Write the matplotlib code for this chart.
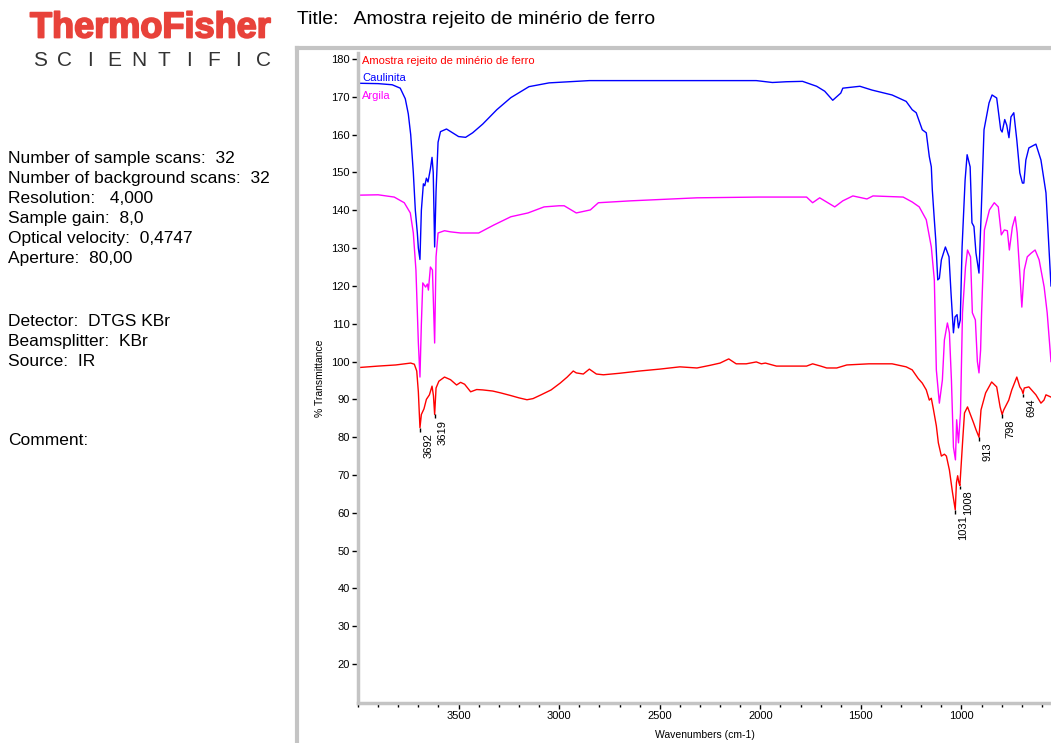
import matplotlib
matplotlib.use("Agg")
import matplotlib.pyplot as plt
import matplotlib.patheffects as pe
from matplotlib.lines import Line2D
from matplotlib.ticker import MultipleLocator

plt.rcParams["font.family"] = ["Liberation Sans", "DejaVu Sans"]

amostra_wn = [4000, 3900, 3812, 3738, 3720, 3708, 3700, 3692, 3685, 3672, 3660, 3645,
              3632, 3625, 3619, 3612, 3598, 3570, 3540, 3510, 3490, 3470, 3440, 3410,
              3380, 3330, 3290, 3240, 3200, 3160, 3130, 3090, 3040, 2995, 2960, 2930,
              2915, 2880, 2850, 2815, 2780, 2700, 2600, 2500, 2400, 2315, 2250, 2200,
              2157, 2120, 2070, 2020, 1995, 1975, 1920, 1800, 1770, 1740, 1700, 1670,
              1620, 1570, 1460, 1345, 1275, 1245, 1215, 1195, 1175, 1160, 1150, 1140,
              1125, 1115, 1100, 1085, 1075, 1060, 1045, 1031, 1025, 1019, 1013, 1008,
              1000, 993, 985, 970, 955, 940, 928, 913, 903, 880, 850, 825, 808, 798,
              790, 765, 750, 725, 710, 700, 694, 688, 665, 630, 605, 590, 580, 555]
amostra_t = [98.4, 98.8, 99.1, 99.6, 99.3, 97.5, 92.0, 82.5, 86.0, 87.5, 90.0, 91.2,
             93.5, 91.0, 86.0, 93.0, 94.8, 95.9, 95.2, 93.8, 94.5, 94.0, 92.0, 92.6,
             92.5, 92.2, 91.7, 91.0, 90.4, 89.9, 90.2, 91.2, 92.5, 94.3, 95.9, 97.5,
             97.0, 96.7, 98.0, 96.7, 96.5, 96.9, 97.5, 98.0, 98.6, 98.3, 99.0, 99.6,
             100.7, 99.4, 99.4, 99.9, 99.4, 99.6, 98.8, 98.8, 98.8, 99.4, 98.8, 98.3,
             98.3, 99.1, 99.4, 99.4, 98.6, 97.8, 95.5, 94.3, 92.5, 89.8, 90.3, 87.5,
             83.0, 78.5, 75.0, 75.5, 75.0, 71.3, 65.5, 60.8, 68.0, 69.8, 68.0, 67.2,
             74.0, 80.0, 86.4, 88.0, 85.9, 83.8, 82.0, 80.0, 87.2, 91.7, 94.6, 93.3,
             88.0, 86.0, 87.2, 89.8, 92.5, 95.9, 93.3, 92.5, 91.5, 93.0, 93.3, 91.2,
             89.0, 89.8, 91.2, 90.6]

caulinita_wn = [4000, 3900, 3830, 3790, 3765, 3750, 3738, 3725, 3715, 3705, 3700, 3692,
                3685, 3675, 3668, 3660, 3652, 3640, 3632, 3626, 3619, 3612, 3602, 3590,
                3560, 3530, 3500, 3465, 3430, 3380, 3310, 3240, 3150, 3050, 2850, 2500,
                2020, 1940, 1870, 1790, 1720, 1680, 1640, 1600, 1590, 1505, 1445, 1345,
                1275, 1245, 1225, 1195, 1175, 1160, 1150, 1145, 1135, 1128, 1118, 1110,
                1100, 1080, 1062, 1052, 1040, 1032, 1022, 1015, 1006, 997, 982, 972,
                957, 948, 938, 928, 913, 902, 888, 863, 848, 825, 805, 798, 785, 775,
                764, 754, 740, 725, 710, 697, 690, 680, 665, 630, 605, 580, 555]
caulinita_t = [173.6, 173.5, 173.2, 172.3, 169.5, 165.5, 160.0, 150.0, 140.0, 134.0, 130.0, 127.0,
               140.0, 147.0, 146.5, 148.5, 147.5, 151.0, 154.0, 150.0, 130.3, 145.0, 158.0, 160.8,
               161.5, 160.5, 159.5, 159.3, 160.5, 162.8, 166.6, 169.8, 172.7, 173.7, 174.3, 174.3,
               174.3, 173.8, 174.0, 174.1, 172.8, 171.5, 169.1, 171.0, 172.3, 172.8, 171.8, 170.5,
               168.8, 166.6, 165.8, 161.3, 160.5, 154.2, 151.5, 145.4, 137.5, 132.2, 121.6, 122.0,
               126.9, 130.3, 127.7, 118.1, 107.6, 111.8, 112.4, 108.9, 111.0, 130.3, 148.0, 154.7,
               151.5, 136.7, 135.7, 128.7, 123.4, 139.3, 161.3, 168.4, 170.5, 169.7, 161.3, 160.7,
               164.0, 162.5, 159.2, 164.7, 165.8, 158.6, 149.9, 147.2, 147.2, 153.3, 156.5, 157.5,
               153.3, 144.6, 120.0]

argila_wn = [4000, 3900, 3820, 3770, 3740, 3725, 3712, 3700, 3692, 3685, 3678, 3664,
             3655, 3650, 3640, 3630, 3619, 3612, 3602, 3570, 3540, 3490, 3400, 3325,
             3240, 3155, 3075, 3000, 2975, 2915, 2845, 2805, 2645, 2315, 2010, 1770,
             1740, 1705, 1630, 1590, 1540, 1470, 1440, 1290, 1245, 1210, 1175, 1150,
             1135, 1125, 1110, 1095, 1085, 1070, 1060, 1050, 1040, 1030, 1024, 1015,
             1005, 995, 980, 970, 955, 946, 931, 921, 913, 905, 900, 886, 861, 837,
             817, 802, 787, 772, 762, 747, 733, 723, 708, 700, 688, 673, 653, 634,
             614, 589, 574, 555]
argila_t = [144.0, 144.1, 143.5, 142.0, 139.3, 134.0, 124.2, 105.0, 95.9, 110.0, 120.8, 119.7,
            120.5, 118.9, 125.0, 124.2, 104.9, 127.7, 134.0, 134.6, 134.3, 134.0, 134.0, 136.1,
            138.3, 139.3, 140.9, 141.2, 141.2, 139.3, 140.1, 142.0, 142.5, 143.3, 143.5, 143.5,
            142.0, 143.3, 140.9, 142.5, 143.8, 143.0, 143.8, 143.5, 142.2, 140.9, 137.5, 130.3,
            121.6, 97.8, 89.0, 95.1, 105.7, 110.2, 107.6, 95.1, 77.4, 74.0, 84.6, 78.5,
            86.4, 112.9, 125.0, 129.5, 127.7, 112.9, 111.0, 100.0, 97.0, 103.0, 112.9, 134.8,
            140.1, 142.0, 140.9, 133.5, 134.8, 134.6, 129.5, 135.6, 138.3, 134.0, 121.6, 114.4,
            124.2, 127.7, 128.7, 129.5, 126.9, 119.7, 112.9, 100.0]

picos_wn = [3692, 3619, 1031, 1008, 913, 798, 694]
picos_t = [82.5, 86.0, 60.8, 67.2, 80.0, 86.0, 91.5]

series = [
    ("Amostra rejeito de minério de ferro", amostra_wn, amostra_t, "#ff0000"),
    ("Caulinita", caulinita_wn, caulinita_t, "#0000ff"),
    ("Argila", argila_wn, argila_t, "#ff00ff"),
]

W, H = 1051, 743


def fx(x):
    return x / W


def fy(y):
    return 1 - y / H


fig = plt.figure(figsize=(W / 100, H / 100), dpi=100)

# cabeçalho / logo
fig.text(fx(30), fy(28), "ThermoFisher", color="#e8423a", fontsize=26, fontweight="bold",
         ha="left", va="center",
         path_effects=[pe.withStroke(linewidth=1.3, foreground="#e8423a")])
for i, ch in enumerate("SCIENTIFIC"):
    fig.text(fx(40 + i * 24.8), fy(60), ch, color="#333333", fontsize=15, ha="center", va="center")

fig.text(fx(297), fy(20), "Title:   Amostra rejeito de minério de ferro", fontsize=14,
         ha="left", va="center")

info1 = ["Number of sample scans:  32", "Number of background scans:  32",
         "Resolution:   4,000", "Sample gain:  8,0", "Optical velocity:  0,4747",
         "Aperture:  80,00"]
info2 = ["Detector:  DTGS KBr", "Beamsplitter:  KBr", "Source:  IR"]
for i, s in enumerate(info1):
    fig.text(fx(8), fy(158 + i * 20.2), s, fontsize=12.5, ha="left", va="center")
for i, s in enumerate(info2):
    fig.text(fx(8), fy(321 + i * 20.2), s, fontsize=12.5, ha="left", va="center")
fig.text(fx(8), fy(441), "Comment:", fontsize=12.5, ha="left", va="center")

# moldura cinza
fig.add_artist(Line2D([fx(297), fx(297)], [0, fy(48)], color="#c4c4c4", lw=3))
fig.add_artist(Line2D([fx(297), 1], [fy(48), fy(48)], color="#c4c4c4", lw=3))

ax = fig.add_axes([fx(358), fy(703), 1 - fx(358), fy(53) - fy(703)])
for label, wn, t, c in series:
    ax.plot(wn, t, color=c, lw=1.0, label=label)

for w, t in zip(picos_wn, picos_t):
    ax.vlines(w, t - 1.0, t, color="black", lw=1)
    ax.annotate(str(w), (w, t - 1.0), xytext=(6, -1), textcoords="offset points",
                rotation=90, ha="center", va="top", fontsize=8)

ax.set_xlim(4000, 555)
ax.set_ylim(9.7, 181.6)
ax.xaxis.set_minor_locator(MultipleLocator(100))
ax.set_xticks([3500, 3000, 2500, 2000, 1500, 1000])
ax.set_yticks(range(20, 181, 10))
ax.tick_params(axis="both", which="major", length=4, width=1, labelsize=8, pad=2)
ax.tick_params(axis="x", which="minor", length=3, width=1)
for side in ("top", "right"):
    ax.spines[side].set_visible(False)
for side in ("left", "bottom"):
    ax.spines[side].set_color("#c4c4c4")
    ax.spines[side].set_linewidth(2.5)
ax.set_xlabel("Wavenumbers (cm-1)", fontsize=7.5, labelpad=6)
ax.set_ylabel("% Transmittance", fontsize=7.5, labelpad=4)

for i, (label, wn, t, c) in enumerate(series):
    ax.text(0.006, 0.988 - i * 0.027, label, transform=ax.transAxes, color=c,
            fontsize=8, ha="left", va="center")

fig.savefig("out.png", dpi=100)
